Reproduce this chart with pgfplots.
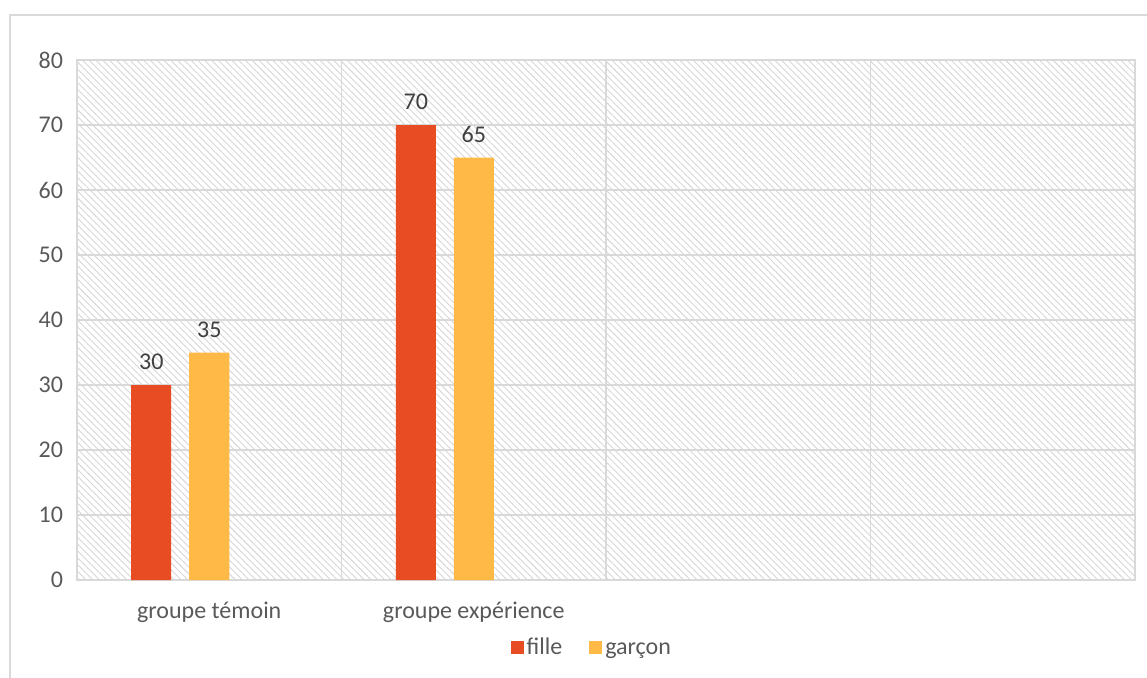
\documentclass[border=0pt]{standalone}
\usepackage{pgfplots}
\pgfplotsset{compat=1.18}
\usepackage{fontspec}
\setmainfont{Carlito}
\usetikzlibrary{patterns.meta}
\definecolor{fillec}{HTML}{E84C22}
\definecolor{garconc}{HTML}{FFB946}
\definecolor{gridc}{HTML}{D9D9D9}
\definecolor{hatchc}{HTML}{D6D6D6}
\definecolor{tickc}{HTML}{595959}
\definecolor{labc}{HTML}{404040}
\begin{document}
\begin{tikzpicture}
\useasboundingbox (-38.5pt,-48.5pt) rectangle (535pt,290pt);
\draw[gridc, line width=0.9pt] (-33.5pt,-60pt) -- (-33.5pt,282.5pt) -- (560pt,282.5pt);
\begin{axis}[
  at={(0,0)}, anchor=south west,
  scale only axis, width=529pt, height=260pt,
  xmin=-0.5, xmax=3.5, ymin=0, ymax=80,
  ytick={0,10,...,80},
  xtick={0,1}, xticklabels={groupe témoin, groupe expérience},
  extra x ticks={0.5,1.5,2.5}, extra x tick labels={},
  extra x tick style={grid=major, major tick length=0pt},
  ymajorgrids,
  major tick length=0pt,
  grid style={gridc, line width=0.9pt},
  axis line style={gridc, line width=0.9pt},
  axis background/.style={pattern={Lines[angle=-45,distance=2.4pt,line width=0.45pt]}, pattern color=hatchc},
  tick label style={font=\fontsize{12}{14}\selectfont, text=tickc},
  /pgf/number format/assume math mode=true,
  yticklabel style={anchor=east, xshift=-3.5pt},
  xticklabel style={anchor=center, yshift=-16pt},
  ybar, bar width=20pt,
  nodes near coords,
  every node near coord/.append style={font=\fontsize{12}{14}\selectfont, text=labc, anchor=south, yshift=4pt},
  legend columns=2,
  legend style={at={(axis description cs:0.487,-0.131)}, anchor=center, draw=none, fill=none,
    font=\fontsize{12}{14}\selectfont, text=tickc, inner sep=0pt,
    nodes={inner sep=1.5pt, anchor=base west},
    /tikz/every even column/.append style={column sep=12pt}},
  legend image code/.code={\fill[#1] (0pt,0.5pt) rectangle (6.5pt,7pt);},
]
\addplot[fill=fillec, draw=none, bar shift=-29pt] coordinates {(0,30) (1,70)};
\addlegendentry{fille}
\addplot[fill=garconc, draw=none, bar shift=0pt] coordinates {(0,35) (1,65)};
\addlegendentry{garçon}
\end{axis}
\end{tikzpicture}
\end{document}
